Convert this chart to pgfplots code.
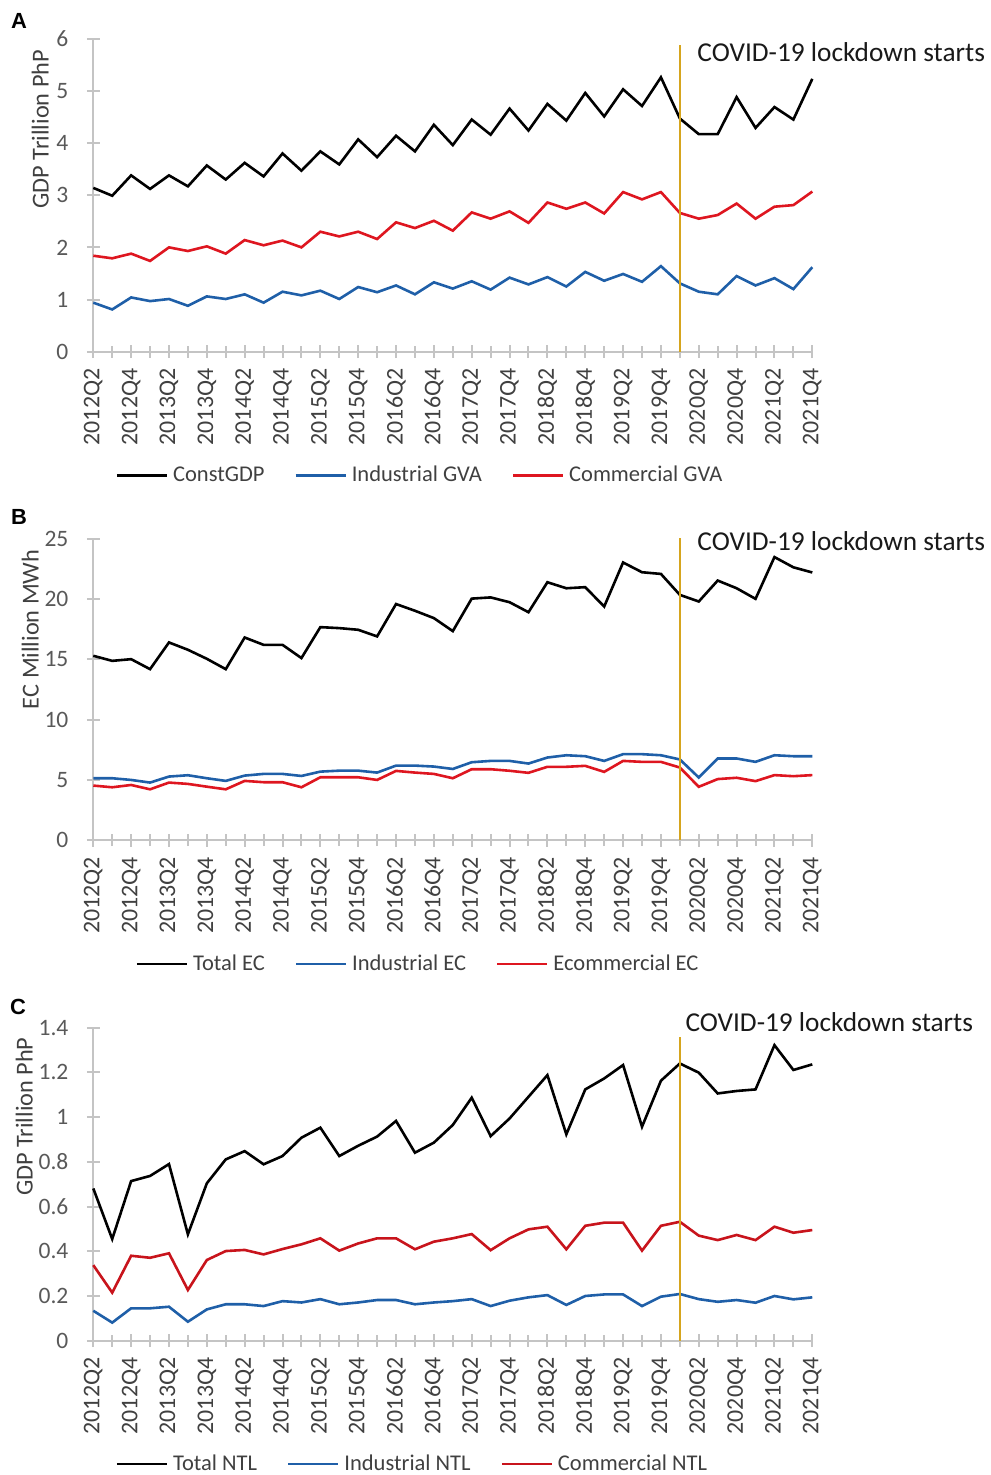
\documentclass[border=0pt]{standalone}
\usepackage{fontspec}
\setmainfont{Carlito}
\newfontfamily\arialf{Liberation Sans}
\usepackage{pgfplots}
\pgfplotsset{compat=1.18}
\usepackage{pgfplotstable}
\definecolor{lblue}{RGB}{31,95,168}
\definecolor{lred}{RGB}{222,22,32}
\definecolor{dred}{RGB}{200,20,28}
\definecolor{axgray}{RGB}{196,196,196}
\definecolor{txtgray}{RGB}{64,64,64}
\definecolor{tickgray}{RGB}{89,89,89}
\definecolor{gold}{RGB}{214,165,30}

\pgfplotstableread{
i k b r
0 3.14 0.94 1.84
1 2.99 0.81 1.79
2 3.38 1.04 1.88
3 3.12 0.97 1.74
4 3.38 1.01 2.00
5 3.17 0.88 1.93
6 3.57 1.06 2.02
7 3.30 1.01 1.88
8 3.62 1.10 2.14
9 3.36 0.94 2.04
10 3.80 1.15 2.13
11 3.47 1.08 2.00
12 3.84 1.17 2.30
13 3.59 1.01 2.21
14 4.07 1.24 2.30
15 3.73 1.14 2.16
16 4.14 1.27 2.48
17 3.84 1.10 2.37
18 4.35 1.33 2.51
19 3.96 1.21 2.32
20 4.45 1.35 2.67
21 4.16 1.19 2.55
22 4.66 1.42 2.69
23 4.24 1.29 2.47
24 4.75 1.43 2.86
25 4.43 1.25 2.74
26 4.96 1.53 2.86
27 4.51 1.36 2.65
28 5.03 1.49 3.06
29 4.71 1.34 2.92
30 5.26 1.64 3.06
31 4.47 1.31 2.66
32 4.17 1.15 2.55
33 4.17 1.10 2.62
34 4.88 1.45 2.84
35 4.29 1.27 2.55
36 4.69 1.41 2.78
37 4.45 1.20 2.81
38 5.23 1.62 3.07
}\dataA

\pgfplotstableread{
i k b r
0 15.30 5.13 4.52
1 14.88 5.13 4.38
2 15.02 4.99 4.57
3 14.19 4.77 4.21
4 16.41 5.27 4.77
5 15.80 5.38 4.66
6 15.05 5.13 4.43
7 14.19 4.91 4.21
8 16.82 5.35 4.91
9 16.21 5.49 4.80
10 16.21 5.49 4.80
11 15.11 5.32 4.38
12 17.68 5.68 5.21
13 17.60 5.76 5.21
14 17.46 5.76 5.21
15 16.91 5.60 4.99
16 19.60 6.18 5.74
17 19.04 6.18 5.60
18 18.43 6.10 5.49
19 17.35 5.90 5.13
20 20.05 6.46 5.88
21 20.15 6.57 5.88
22 19.75 6.57 5.75
23 18.92 6.35 5.58
24 21.41 6.85 6.08
25 20.91 7.04 6.08
26 21.00 6.96 6.16
27 19.39 6.57 5.66
28 23.05 7.13 6.57
29 22.24 7.13 6.49
30 22.10 7.04 6.49
31 20.36 6.69 6.02
32 19.81 5.19 4.42
33 21.55 6.77 5.06
34 20.91 6.77 5.17
35 20.03 6.49 4.89
36 23.50 7.04 5.39
37 22.65 6.96 5.30
38 22.22 6.96 5.39
}\dataB

\pgfplotstableread{
i k b r
0 0.681 0.134 0.338
1 0.455 0.081 0.215
2 0.714 0.145 0.380
3 0.737 0.145 0.371
4 0.790 0.152 0.391
5 0.476 0.085 0.227
6 0.704 0.140 0.361
7 0.811 0.163 0.401
8 0.848 0.163 0.406
9 0.789 0.155 0.386
10 0.826 0.177 0.410
11 0.908 0.171 0.431
12 0.953 0.186 0.458
13 0.826 0.163 0.403
14 0.872 0.171 0.435
15 0.913 0.182 0.458
16 0.983 0.182 0.458
17 0.841 0.163 0.409
18 0.886 0.171 0.443
19 0.965 0.177 0.458
20 1.087 0.186 0.477
21 0.915 0.155 0.405
22 0.994 0.179 0.458
23 1.091 0.194 0.498
24 1.188 0.204 0.510
25 0.923 0.160 0.409
26 1.124 0.200 0.514
27 1.173 0.207 0.528
28 1.233 0.207 0.528
29 0.957 0.155 0.403
30 1.163 0.197 0.514
31 1.240 0.209 0.532
32 1.199 0.186 0.470
33 1.106 0.174 0.450
34 1.117 0.182 0.473
35 1.124 0.170 0.450
36 1.322 0.200 0.510
37 1.211 0.185 0.483
38 1.236 0.194 0.495
}\dataC

\pgfplotsset{
  panel/.style={
    scale only axis, width=359.5bp,
    xmin=0, xmax=38, enlarge x limits=false, clip=false,
    axis x line*=bottom, axis y line*=left,
    axis line style={axgray, line width=1bp, -},
    xtick={0,2,...,38}, minor xtick={1,3,...,37},
    xticklabels={2012Q2,2012Q4,2013Q2,2013Q4,2014Q2,2014Q4,2015Q2,2015Q4,2016Q2,2016Q4,2017Q2,2017Q4,2018Q2,2018Q4,2019Q2,2019Q4,2020Q2,2020Q4,2021Q2,2021Q4},
    /pgf/number format/assume math mode=true,
    tick align=center,
    major tick length=6.5bp, minor tick length=6bp,
    tick style={axgray, line width=1bp},
    minor tick style={axgray, line width=1bp},
    x tick label style={rotate=90, anchor=east, inner sep=0pt, font=\fontsize{12}{12}\selectfont, text=txtgray},
    xticklabel shift=5bp,
    y tick label style={anchor=east, inner sep=0pt, font=\fontsize{11.8}{12}\selectfont, text=tickgray},
    yticklabel shift=9bp,
    ylabel style={anchor=center, font=\fontsize{12.2}{12}\selectfont, text=txtgray},
    legend columns=3,
    legend style={draw=none, fill=none, inner sep=0pt, anchor=west,
      font=\fontsize{11.3}{12}\selectfont, text=txtgray,
      nodes={inner sep=2.4bp},
      /tikz/every even column/.append style={column sep=12.5bp}},
    legend image code/.code={\draw[#1, line width=1.3bp] (0bp,0bp) -- (25bp,0bp);},
    every axis plot/.append style={line width=1.3bp, mark=none},
  }
}

\begin{document}
\begin{tikzpicture}
\useasboundingbox (0,0) rectangle (495.5bp,-737.5bp);

% Panel A
\node[font=\arialf\bfseries\fontsize{11}{11}\selectfont] at (9.5bp,-10.5bp) {A};
\begin{axis}[panel, at={(46.65bp,-175.85bp)}, anchor=south west,
  height=156.5bp, ymin=0, ymax=6, ytick={0,1,2,3,4,5,6},
  yticklabels={0,1,2,3,4,5,6},
  ylabel={GDP Trillion PhP},
  ylabel style={at={(axis description cs:-0.0737,0.711)}},
  legend style={at={(axis description cs:0.0306,-0.396)}}]
\addplot[black] table[x=i,y=k] {\dataA};
\addplot[lblue] table[x=i,y=b] {\dataA};
\addplot[lred] table[x=i,y=r] {\dataA};
\addplot[gold, line width=1bp, forget plot] coordinates {(31,0) (31,5.87)};
\node[anchor=west, inner sep=0pt, font=\fontsize{13.7}{14}\selectfont, text=black!90] at (axis cs:31.91,5.736) {COVID-19 lockdown starts};
\legend{ConstGDP, Industrial GVA, Commercial GVA}
\end{axis}

% Panel B
\node[font=\arialf\bfseries\fontsize{11}{11}\selectfont] at (9.5bp,-258.5bp) {B};
\begin{axis}[panel, at={(46.65bp,-420bp)}, anchor=south west,
  height=150.5bp, ymin=0, ymax=25, ytick={0,5,10,15,20,25},
  yticklabels={0,5,10,15,20,25},
  ylabel={EC Million MWh},
  ylabel style={at={(axis description cs:-0.0876,0.70)}},
  legend style={at={(axis description cs:0.0584,-0.412)}}]
\addplot[black] table[x=i,y=k] {\dataB};
\addplot[lblue] table[x=i,y=b] {\dataB};
\addplot[lred] table[x=i,y=r] {\dataB};
\addplot[gold, line width=1bp, forget plot] coordinates {(31,0) (31,25.08)};
\node[anchor=west, inner sep=0pt, font=\fontsize{13.7}{14}\selectfont, text=black!90] at (axis cs:31.91,24.83) {COVID-19 lockdown starts};
\legend{Total EC, Industrial EC, Ecommercial EC}
\end{axis}

% Panel C
\node[font=\arialf\bfseries\fontsize{11}{11}\selectfont] at (9bp,-503.5bp) {C};
\begin{axis}[panel, at={(46.65bp,-670.35bp)}, anchor=south west,
  height=156.5bp, ymin=0, ymax=1.4, ytick={0,0.2,0.4,0.6,0.8,1,1.2,1.4},
  yticklabels={0,0.2,0.4,0.6,0.8,1,1.2,1.4},
  ylabel={GDP Trillion PhP},
  ylabel style={at={(axis description cs:-0.096,0.716)}},
  legend style={at={(axis description cs:0.0306,-0.394)}}]
\addplot[black] table[x=i,y=k] {\dataC};
\addplot[lblue] table[x=i,y=b] {\dataC};
\addplot[dred] table[x=i,y=r] {\dataC};
\addplot[gold, line width=1bp, forget plot] coordinates {(31,0) (31,1.358)};
\node[anchor=west, inner sep=0pt, font=\fontsize{13.7}{14}\selectfont, text=black!90] at (axis cs:31.28,1.425) {COVID-19 lockdown starts};
\legend{Total NTL, Industrial NTL, Commercial NTL}
\end{axis}
\end{tikzpicture}
\end{document}
